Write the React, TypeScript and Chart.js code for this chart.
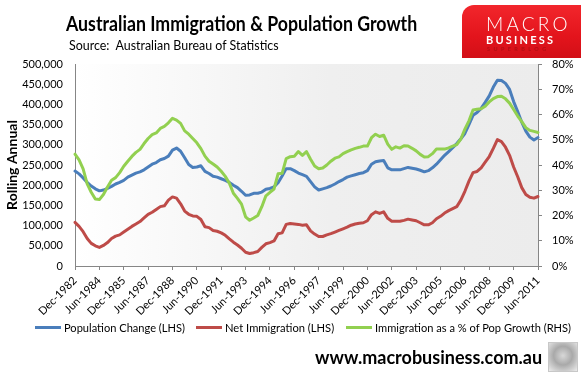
import React, { useEffect, useLayoutEffect, useRef, useState } from 'react';
import { Chart, registerables } from 'chart.js';

Chart.register(...registerables);

// ---- data (quarterly, Dec-1982 .. Jun-2011) ----
const TICK_LABELS = [
  'Dec-1982', 'Jun-1984', 'Dec-1985', 'Jun-1987', 'Dec-1988', 'Jun-1990', 'Dec-1991',
  'Jun-1993', 'Dec-1994', 'Jun-1996', 'Dec-1997', 'Jun-1999', 'Dec-2000', 'Jun-2002',
  'Dec-2003', 'Jun-2005', 'Dec-2006', 'Jun-2008', 'Dec-2009', 'Jun-2011',
];
const QUARTERS_PER_TICK = 6;

const POP_CHANGE = [
  235000, 228000, 218000, 207000, 198000, 191000, 186000, 188000, 192000, 197000,
  203000, 207000, 212000, 220000, 225000, 230000, 233000, 238000, 245000, 252000,
  256000, 263000, 266000, 272000, 287000, 292000, 284000, 268000, 251000, 244000,
  245000, 248000, 234000, 229000, 222000, 220000, 216000, 212000, 207000, 200000,
  194000, 185000, 175000, 176000, 180000, 180000, 183000, 190000, 192000, 196000,
  206000, 223000, 241000, 241000, 236000, 230000, 226000, 222000, 209000, 196000,
  188000, 191000, 194000, 198000, 203000, 209000, 214000, 220000, 223000, 226000,
  229000, 231000, 236000, 252000, 258000, 260000, 261000, 243000, 238000, 238000,
  238000, 241000, 244000, 242000, 240000, 237000, 233000, 236000, 243000, 252000,
  263000, 274000, 283000, 293000, 303000, 315000, 328000, 350000, 373000, 380000,
  390000, 405000, 421000, 443000, 460000, 459000, 452000, 437000, 407000, 382000,
  356000, 334000, 319000, 312000, 318000,
];

const NET_IMMIGRATION = [
  108000, 98000, 85000, 68000, 56000, 50000, 46000, 51000, 58000, 68000,
  74000, 77000, 84000, 91000, 98000, 104000, 110000, 119000, 128000, 133000,
  140000, 147000, 149000, 163000, 171000, 168000, 154000, 136000, 128000, 124000,
  123000, 115000, 97000, 95000, 88000, 86000, 82000, 76000, 67000, 59000,
  52000, 44000, 34000, 31000, 33000, 36000, 46000, 55000, 58000, 62000,
  80000, 82000, 103000, 105000, 104000, 103000, 101000, 102000, 87000, 79000,
  73000, 73000, 77000, 80000, 84000, 88000, 92000, 96000, 101000, 104000,
  106000, 107000, 112000, 127000, 134000, 130000, 134000, 118000, 111000, 111000,
  111000, 113000, 116000, 114000, 112000, 107000, 102000, 102000, 107000, 117000,
  123000, 131000, 137000, 142000, 147000, 163000, 185000, 210000, 231000, 234000,
  243000, 257000, 271000, 291000, 313000, 308000, 294000, 274000, 245000, 221000,
  194000, 177000, 170000, 168000, 172000,
];

const IMMIGRATION_SHARE = [
  44.3, 42, 38.5, 32.5, 29.2, 26.5, 26.3, 28.3, 31.3, 34,
  35, 37, 39.5, 41.5, 43.4, 45, 46.2, 48.5, 50.5, 52,
  52.7, 54.5, 55.3, 56.7, 58.5, 57.8, 56.5, 53.5, 52.2, 50.5,
  48.8, 46.5, 43.5, 41.5, 40.4, 39.2, 37.5, 35.5, 32.8, 28.8,
  26.8, 24.5, 19.5, 18.1, 19, 20, 23.5, 27.8, 29.2, 30.5,
  36.5, 36.7, 42.5, 43.3, 43.5, 45.3, 43.8, 45.3, 42.3, 39.6,
  38.5, 38.8, 40, 41.5, 42.7, 43.2, 44.5, 45.3, 46, 46.6,
  47, 47.5, 47.5, 50.8, 52.2, 51.3, 51.8, 48.3, 46.2, 47.2,
  46.7, 47.6, 47.5, 46.6, 45.6, 44.2, 43.2, 43.3, 44.5, 46.3,
  46.3, 46.3, 46.8, 47.5, 48.1, 50.3, 54.2, 57.5, 61.8, 62.1,
  62.3, 63.3, 65, 66.3, 67.1, 67.2, 66.2, 64.5, 62, 59.4,
  57.2, 54.8, 53.7, 53.3, 52.9,
];

const SERIES_LABELS = [
  'Population Change (LHS)',
  'Net Immigration (LHS)',
  'Immigration as a % of Pop Growth (RHS)',
];
const COLORS = ['#4a7ebb', '#be4b48', '#92d050'];

const FONT = 'Lato, "Open Sans", "DejaVu Sans", sans-serif';
const AXIS_COLOR = '#868686';

const fmtThousands = (v: number) => String(Math.round(v)).replace(/\B(?=(\d{3})+(?!\d))/g, ',');

const plotBg = {
  id: 'plotBg',
  beforeDraw(chart: any) {
    const { ctx, chartArea: a } = chart;
    const g = ctx.createLinearGradient(a.left, 0, a.right, 0);
    g.addColorStop(0, '#ffffff');
    g.addColorStop(0.55, '#efefef');
    g.addColorStop(1, '#ececec');
    ctx.save();
    ctx.fillStyle = g;
    ctx.fillRect(a.left, a.top, a.right - a.left, a.bottom - a.top);
    ctx.restore();
  },
};

function FitText({ text, width, left, cy, size, weight = 400, color = '#000', h = 24 }: any) {
  const ref = useRef<HTMLSpanElement>(null);
  const [sx, setSx] = useState(1);
  useLayoutEffect(() => {
    if (ref.current) {
      const w = ref.current.offsetWidth;
      if (w > 0) setSx(width / w);
    }
  }, [text, width]);
  return (
    <div style={{ position: 'absolute', left, top: cy - h / 2, height: h, display: 'flex', alignItems: 'center' }}>
      <span
        ref={ref}
        style={{
          display: 'inline-block', whiteSpace: 'pre', fontFamily: FONT, fontSize: size,
          fontWeight: weight, color, transform: `scaleX(${sx})`, transformOrigin: 'left center', lineHeight: 1,
        }}
      >
        {text}
      </span>
    </div>
  );
}

function ChartCanvas() {
  const ref = useRef<HTMLCanvasElement>(null);
  useEffect(() => {
    if (!ref.current) return;
    const series = [POP_CHANGE, NET_IMMIGRATION, IMMIGRATION_SHARE];
    const chart = new Chart(ref.current, {
      type: 'line',
      data: {
        datasets: series.map((s, k) => ({
          label: SERIES_LABELS[k],
          data: s.map((v, i) => ({ x: i, y: v })),
          borderColor: COLORS[k],
          backgroundColor: COLORS[k],
          yAxisID: k === 2 ? 'y1' : 'y',
          order: k === 2 ? 0 : k + 1,
          clip: false as any,
        })),
      },
      options: {
        animation: false,
        responsive: false,
        devicePixelRatio: 1,
        layout: { padding: { top: 64, left: 0, right: 0, bottom: 0 } },
        elements: {
          point: { radius: 0 },
          line: { borderWidth: 3, tension: 0, borderJoinStyle: 'round', borderCapStyle: 'round' },
        },
        plugins: { legend: { display: false }, tooltip: { enabled: false }, title: { display: false } },
        scales: {
          x: {
            type: 'linear',
            min: 0,
            max: (TICK_LABELS.length - 1) * QUARTERS_PER_TICK,
            afterFit(s: any) { s.height = 108; },
            ticks: {
              stepSize: QUARTERS_PER_TICK,
              autoSkip: false,
              maxRotation: 45,
              minRotation: 45,
              padding: 4,
              color: '#000',
              font: { family: FONT, size: 11 },
              callback: (v: any) => TICK_LABELS[Math.round(Number(v) / QUARTERS_PER_TICK)] ?? '',
            },
            grid: { display: true, drawOnChartArea: false, drawTicks: true, tickLength: 4, tickColor: AXIS_COLOR },
            border: { display: true, color: AXIS_COLOR, width: 1 },
          },
          y: {
            position: 'left',
            min: 0,
            max: 500000,
            afterFit(s: any) { s.width = 75; },
            ticks: {
              stepSize: 50000,
              padding: 12,
              color: '#000',
              font: { family: FONT, size: 11 },
              callback: (v: any) => fmtThousands(Number(v)),
            },
            grid: { display: true, drawOnChartArea: false, drawTicks: false },
            border: { display: true, color: AXIS_COLOR, width: 1 },
            title: {
              display: true,
              text: 'Rolling Annual',
              color: '#000',
              font: { family: FONT, size: 14, weight: 'bold' },
              padding: { top: 4, bottom: 0 },
            },
          },
          y1: {
            position: 'right',
            min: 0,
            max: 80,
            afterFit(s: any) { s.width = 43; },
            ticks: {
              stepSize: 10,
              padding: 10,
              color: '#000',
              font: { family: FONT, size: 11 },
              callback: (v: any) => `${v}%`,
            },
            grid: { display: true, drawOnChartArea: false, drawTicks: true, tickLength: 4, tickColor: AXIS_COLOR },
            border: { display: true, color: AXIS_COLOR, width: 1 },
          },
        },
      } as any,
      plugins: [plotBg],
    });
    return () => chart.destroy();
  }, []);
  return <canvas ref={ref} width={581} height={374} style={{ position: 'absolute', left: 0, top: 0, width: 581, height: 374 }} />;
}

function LegendItem({ x0, textX, textW, color, label }: any) {
  return (
    <>
      <div style={{ position: 'absolute', left: x0, top: 326, width: 26, height: 3, background: color }} />
      <FitText text={label} width={textW} left={textX} cy={327.5} size={12} />
    </>
  );
}

export default function App() {
  return (
    <div style={{ position: 'absolute', left: 0, top: 0, width: 581, height: 374, background: '#fff', overflow: 'hidden' }}>
      <ChartCanvas />
      <FitText text="Australian Immigration & Population Growth" width={351} left={66} cy={23} size={20} weight={700} />
      <FitText text={'Source:  Australian Bureau of Statistics'} width={210} left={69} cy={46} size={12.5} />

      {/* logo */}
      <div style={{
        position: 'absolute', left: 462, top: 5, width: 119, height: 53,
        background: 'linear-gradient(180deg, #f2262c 0%, #e3141c 60%, #d20f17 100%)',
        borderTopLeftRadius: 12,
      }} />
      <div style={{ position: 'absolute', left: 486, top: 14, width: 80, fontFamily: FONT, fontSize: 19, fontWeight: 300, color: '#fff', letterSpacing: 3.2, lineHeight: 1 }}>MACRO</div>
      <div style={{ position: 'absolute', left: 486, top: 34, width: 80, fontFamily: FONT, fontSize: 11, fontWeight: 700, color: '#fff', letterSpacing: 2.2, lineHeight: 1 }}>BUSINESS</div>
      <div style={{ position: 'absolute', left: 487, top: 47, width: 80, fontFamily: FONT, fontSize: 5.5, fontWeight: 700, color: '#b30d13', letterSpacing: 3.4, lineHeight: 1 }}>SUPERBLOG</div>

      <LegendItem x0={35} textX={64} textW={121} color={COLORS[0]} label={SERIES_LABELS[0]} />
      <LegendItem x0={196} textX={225} textW={109} color={COLORS[1]} label={SERIES_LABELS[1]} />
      <LegendItem x0={346} textX={375} textW={196} color={COLORS[2]} label={SERIES_LABELS[2]} />

      <FitText text="www.macrobusiness.com.au" width={227} left={315} cy={357} size={18} weight={700} />

      {/* wolf picture placeholder */}
      <div style={{
        position: 'absolute', left: 548, top: 342, width: 30, height: 30,
        background: 'radial-gradient(circle at 50% 45%, #d8d8d8 0%, #a9a9a9 45%, #ececec 100%)',
        border: '1px solid #c8c8c8', boxSizing: 'border-box',
      }} />
    </div>
  );
}
